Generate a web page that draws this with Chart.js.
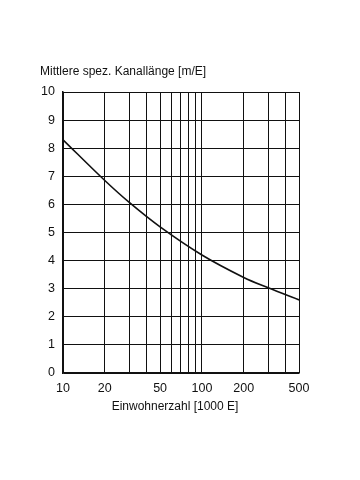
<!DOCTYPE html>
<html><head><meta charset="utf-8">
<script src="https://cdn.jsdelivr.net/npm/chart.js@4/dist/chart.umd.min.js"></script>
<style>html,body{margin:0;padding:0;background:#fff;}canvas{display:block;}</style>
</head><body>
<canvas id="c" width="360" height="480"></canvas>
<script>
const population = [10, 20, 30, 50, 100, 200, 300, 500];
const sewerLength = [8.3, 6.85, 6.07, 5.2, 4.2, 3.4, 3.03, 2.6];
const xGridValues = [10, 20, 30, 40, 50, 60, 70, 80, 90, 100, 200, 300, 400, 500];
const xTickLabels = [10, 20, 50, 100, 200, 500];
const yTitle = 'Mittlere spez. Kanallänge [m/E]';
const xTitle = 'Einwohnerzahl [1000 E]';

const FONT = 'Arial, "Liberation Sans", sans-serif';

const titlePlugin = {
  id: 'titles',
  afterDraw(chart) {
    const ctx = chart.ctx;
    ctx.save();
    ctx.font = '12px ' + FONT;
    ctx.fillStyle = '#111';
    ctx.textBaseline = 'middle';
    ctx.textAlign = 'left';
    ctx.fillText(yTitle, 40, 72);
    ctx.textAlign = 'center';
    ctx.fillText(xTitle, 175, 407);
    ctx.restore();
  }
};
const bgPlugin = {
  id: 'bg',
  beforeDraw(chart) {
    const ctx = chart.ctx;
    ctx.save();
    ctx.fillStyle = '#fff';
    ctx.fillRect(0, 0, chart.width, chart.height);
    ctx.restore();
  }
};

new Chart(document.getElementById('c'), {
  type: 'line',
  data: {
    datasets: [{
      data: population.map((p, i) => ({x: p, y: sewerLength[i]})),
      borderColor: '#111',
      borderWidth: 1.6,
      pointRadius: 0,
      fill: false,
      tension: 0.35
    }]
  },
  options: {
    responsive: false,
    animation: false,
    layout: {padding: {left: 0, right: 61, top: 92, bottom: 62}},
    plugins: {legend: {display: false}, tooltip: {enabled: false}, title: {display: false}},
    scales: {
      x: {
        type: 'logarithmic',
        min: 10, max: 500,
        afterBuildTicks(scale) { scale.ticks = xGridValues.map(v => ({value: v})); },
        afterFit(scale) { scale.height = 45; },
        grid: {color: '#111', lineWidth: 1, drawTicks: false},
        border: {display: true, color: '#111', width: 1.5},
        ticks: {
          autoSkip: false, maxRotation: 0, padding: 8,
          color: '#111', font: {family: FONT, size: 12.5},
          callback(value) { return xTickLabels.includes(value) ? String(value) : ''; }
        }
      },
      y: {
        min: 0, max: 10,
        afterFit(scale) { scale.width = 63; },
        grid: {color: '#111', lineWidth: 1, drawTicks: false},
        border: {display: true, color: '#111', width: 1.5},
        ticks: {stepSize: 1, padding: 8, color: '#111', font: {family: FONT, size: 12.5}}
      }
    }
  },
  plugins: [bgPlugin, titlePlugin]
});
</script>
</body></html>
